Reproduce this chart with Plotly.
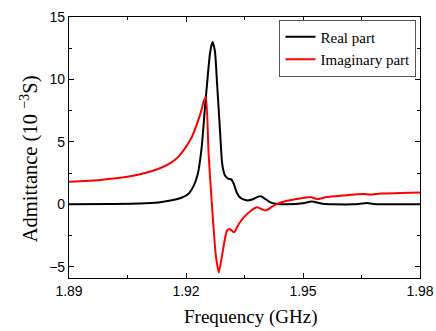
import plotly.graph_objects as go

# Real part (10^-3 S) vs frequency (GHz)
freq_real = [1.890, 1.900, 1.908, 1.913, 1.916, 1.919, 1.9205, 1.922, 1.923, 1.924,
             1.9248, 1.9255, 1.9262, 1.9268, 1.9274, 1.928, 1.9287, 1.9293, 1.930,
             1.9308, 1.9316, 1.9323, 1.933, 1.934, 1.9355, 1.937, 1.9385, 1.9392,
             1.940, 1.9415, 1.943, 1.946, 1.950, 1.9522, 1.955, 1.958, 1.963, 1.9665,
             1.968, 1.972, 1.980]
real_part = [0.0, 0.02, 0.06, 0.15, 0.3, 0.55, 0.8, 1.5, 2.4, 4.5,
             7.5, 10.0, 12.2, 13.0, 12.3, 9.5, 6.0, 3.2, 2.3,
             2.05, 2.0, 1.6, 0.95, 0.5, 0.32, 0.38, 0.62, 0.65,
             0.5, 0.18, 0.05, 0.0, 0.08, 0.22, 0.05, 0.0, 0.0, 0.1,
             0.02, 0.0, 0.0]

# Imaginary part
freq_imag = [1.890, 1.898, 1.905, 1.910, 1.913, 1.916, 1.918, 1.920, 1.9215, 1.923,
             1.924, 1.9246, 1.9251, 1.9258, 1.9267, 1.9276, 1.9284, 1.9293, 1.9305,
             1.9312, 1.9323, 1.9335, 1.9348, 1.9365, 1.9382, 1.9404, 1.9425, 1.9445,
             1.948, 1.9508, 1.952, 1.9536, 1.956, 1.960, 1.9656, 1.967, 1.970, 1.975, 1.980]
imag_part = [1.8, 1.95, 2.2, 2.55, 2.85, 3.3, 3.8, 4.6, 5.4, 6.6,
             7.6, 8.3, 8.6, 4.0, -0.25, -3.95, -5.45, -4.0, -2.1,
             -1.97, -2.24, -1.6, -1.04, -0.55, -0.24, -0.5, -0.1, 0.16,
             0.4, 0.55, 0.58, 0.42, 0.58, 0.7, 0.83, 0.78, 0.86, 0.9, 0.95]

x_ticks = [1.89, 1.92, 1.95, 1.98]
y_ticks = [-5, 0, 5, 10, 15]
x_title = "Frequency (GHz)"
y_title = "Admittance (10 <sup>\u22123</sup>S)"

serif = "Liberation Serif"
sans = "Liberation Sans"

fig = go.Figure()
fig.add_trace(go.Scatter(x=freq_real, y=real_part, mode="lines", name="Real part",
                         line=dict(color="black", width=2, shape="spline", smoothing=0.6)))
fig.add_trace(go.Scatter(x=freq_imag, y=imag_part, mode="lines", name="Imaginary part",
                         line=dict(color="red", width=2, shape="spline", smoothing=0.6)))

fig.update_layout(
    width=436, height=331,
    margin=dict(l=69, r=16, t=17, b=53, autoexpand=False),
    plot_bgcolor="white", paper_bgcolor="white",
    showlegend=True,
    legend=dict(x=0.99, y=0.99, xanchor="right", yanchor="top",
                bordercolor="#555", borderwidth=1, bgcolor="white",
                font=dict(family=serif, size=15, color="black"),
                tracegroupgap=0, itemwidth=30),
    annotations=[
        dict(text=x_title, xref="paper", yref="paper", x=0.516, y=-0.15,
             xanchor="center", yanchor="middle", showarrow=False,
             font=dict(family=serif, size=19, color="black")),
        dict(text=y_title, xref="paper", yref="paper", x=-0.114, y=0.459,
             xanchor="center", yanchor="middle", showarrow=False, textangle=-90,
             font=dict(family=serif, size=20.5, color="black")),
    ],
)
fig.update_xaxes(
    range=[1.89, 1.98], tickvals=x_ticks, ticktext=[f"{v:.2f}" for v in x_ticks],
    ticks="inside", ticklen=5, tickwidth=1, tickcolor="black",
    minor=dict(dtick=0.015, tick0=1.89, ticks="inside", ticklen=3, tickcolor="black"),
    showline=True, linecolor="black", linewidth=1.2, mirror="allticks",
    showgrid=False, zeroline=False, automargin=False,
    tickfont=dict(family=sans, size=14, color="black"),
)
fig.update_yaxes(
    range=[-5.9, 15], tickvals=y_ticks, ticktext=["\u22125", "0", "5", "10", "15"],
    ticks="inside", ticklen=5, tickwidth=1, tickcolor="black",
    minor=dict(dtick=2.5, tick0=0, ticks="inside", ticklen=3, tickcolor="black"),
    showline=True, linecolor="black", linewidth=1.2, mirror="allticks",
    showgrid=False, zeroline=False, automargin=False,
    tickfont=dict(family=sans, size=14, color="black"),
)

fig.write_html("out.html")
